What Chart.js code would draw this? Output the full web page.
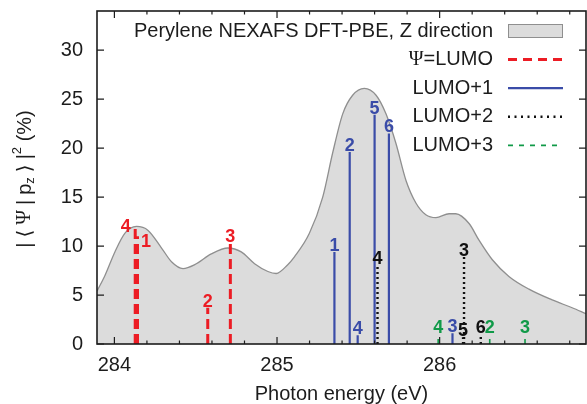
<!DOCTYPE html>
<html>
<head>
<meta charset="utf-8">
<script src="https://cdn.jsdelivr.net/npm/chart.js@4.4.1/dist/chart.umd.min.js"></script>
<style>
  html, body { margin: 0; padding: 0; background: #fff; }
  #wrap { width: 587px; height: 404px; position: relative; }
</style>
</head>
<body>
<div id="wrap"><canvas id="nexafs"></canvas></div>
<script>
// Perylene NEXAFS, z-polarised DFT-PBE spectrum with the orbital sticks

const energy = [283.893, 283.942, 284.003, 284.064, 284.136, 284.207, 284.290, 284.351, 284.422,
  284.494, 284.596, 284.698, 284.780, 284.862, 284.944, 284.995, 285.066, 285.107, 285.199,
  285.281, 285.342, 285.404, 285.465, 285.537, 285.609, 285.670, 285.731, 285.793, 285.854,
  285.915, 285.977, 286.058, 286.099, 286.181, 286.242, 286.324, 286.426, 286.549, 286.692,
  286.815, 286.899];
const spectrum = [5.4, 7.0, 9.4, 11.3, 12.0, 11.6, 9.8, 8.4, 7.7,
  8.1, 9.2, 9.8, 9.4, 8.2, 7.4, 7.2, 8.1, 8.9, 11.3,
  15.0, 19.5, 23.5, 25.4, 26.1, 25.4, 23.5, 20.5, 16.7, 14.4,
  13.2, 12.9, 13.3, 13.3, 12.3, 10.6, 8.6, 6.9, 5.6, 4.5,
  3.7, 3.1];

// stick positions (eV), weights (%) and the index written above each
const lumoE = [284.128, 284.142, 284.574, 284.713];
const lumoW = [11.8, 11.0, 3.7, 10.3];
const lumoIds = ['4', '1', '2', '3'];

const lumo1E = [285.353, 285.447, 285.496, 285.600, 285.688, 286.079];
const lumo1W = [9.4, 19.6, 0.9, 23.4, 21.5, 1.1];
const lumo1Ids = ['1', '2', '4', '5', '6', '3'];

const lumo2E = [285.618, 286.150, 286.144, 286.253];
const lumo2W = [8.1, 8.9, 0.7, 1.0];
const lumo2Ids = ['4', '3', '5', '6'];

const lumo3E = [285.991, 286.308, 286.525];
const lumo3W = [0.5, 0.5, 0.5];
const lumo3Ids = ['4', '2', '3'];

const xMajorTicks = [284, 285, 286];
const xMinorTicks = [284.2, 284.4, 284.6, 284.8, 285.2, 285.4, 285.6, 285.8, 286.2, 286.4, 286.6, 286.8];
const yTicks = [0, 5, 10, 15, 20, 25, 30];

const INK = '#1c1c1c';
const SANS = "'Liberation Sans', 'DejaVu Sans', Arial, sans-serif";
const SERIF = "'Liberation Serif', 'DejaVu Serif', serif";

Chart.defaults.font.family = SANS;
Chart.defaults.font.size = 20;
Chart.defaults.color = INK;

// vertical stick from 0 to h at each x, broken apart with nulls
function sticks(xs, hs) {
  const pts = [];
  xs.forEach((x, i) => {
    pts.push({ x, y: 0 }, { x, y: hs[i] }, { x, y: null });
  });
  return pts;
}

// nudges for labels that would otherwise collide
const labelNudge = {
  'Ψ=LUMO:4': { dx: -9.5, dy: 4 },
  'Ψ=LUMO:1': { dx: 8.5, dy: 11 },
};

// fixed frame: the scales keep no extra padding for half-height labels
function noPad(s) {
  s.paddingTop = 0; s.paddingBottom = 0; s.paddingLeft = 0; s.paddingRight = 0;
}

// draw a run of text pieces (with optional sub/superscripts) starting at x
function richWidth(ctx, pieces) {
  let w = 0;
  pieces.forEach(p => {
    ctx.font = (p.size || 20) + 'px ' + (p.serif ? SERIF : SANS);
    w += ctx.measureText(p.t).width;
  });
  return w;
}
function drawRich(ctx, pieces, x, y) {
  pieces.forEach(p => {
    ctx.font = (p.size || 20) + 'px ' + (p.serif ? SERIF : SANS);
    ctx.fillText(p.t, x, y + (p.dy || 0));
    x += ctx.measureText(p.t).width;
  });
}

const stickLabels = {
  id: 'stickLabels',
  afterDatasetsDraw(chart) {
    const { ctx, scales: { x, y } } = chart;
    ctx.save();
    ctx.font = 'bold 18px ' + SANS;
    ctx.textAlign = 'center';
    ctx.textBaseline = 'alphabetic';
    chart.data.datasets.forEach(ds => {
      if (!ds.ids) return;
      ctx.fillStyle = ds.labelColor || ds.borderColor;
      ds.ids.forEach((id, i) => {
        const top = ds.data[i * 3 + 1];
        const nudge = labelNudge[ds.label + ':' + id] || { dx: 0, dy: ds.labelDy || -1 };
        ctx.fillText(id, x.getPixelForValue(top.x) + nudge.dx, y.getPixelForValue(top.y) + nudge.dy);
      });
    });
    ctx.restore();
  },
};

const frameAndKey = {
  id: 'frameAndKey',
  afterDraw(chart) {
    const { ctx, chartArea: a, scales: { x, y } } = chart;
    ctx.save();

    // box with inward ticks on all four sides
    ctx.strokeStyle = INK;
    ctx.lineWidth = 1.6;
    ctx.strokeRect(a.left, a.top, a.right - a.left, a.bottom - a.top);
    ctx.lineWidth = 1.2;
    ctx.beginPath();
    const xt = (v, len) => {
      const px = x.getPixelForValue(v);
      ctx.moveTo(px, a.bottom); ctx.lineTo(px, a.bottom - len);
      ctx.moveTo(px, a.top); ctx.lineTo(px, a.top + len);
    };
    xMajorTicks.forEach(v => xt(v, 7));
    xMinorTicks.forEach(v => xt(v, 3.5));
    yTicks.forEach(v => {
      const py = y.getPixelForValue(v);
      ctx.moveTo(a.left, py); ctx.lineTo(a.left + 7, py);
      ctx.moveTo(a.right, py); ctx.lineTo(a.right - 7, py);
    });
    ctx.stroke();

    // y axis title: |<Psi|p_z>|^2 (%)
    ctx.fillStyle = INK;
    ctx.textAlign = 'left';
    ctx.textBaseline = 'middle';
    const sp = '\u2005';
    const title = [
      { t: '|' + sp + '\u27E8' + sp }, { t: 'Ψ', serif: true }, { t: sp + '|' + sp + 'p' },
      { t: 'z', size: 13, dy: 5 }, { t: sp + '\u27E9' + sp + '|' },
      { t: '2', size: 13, dy: -8 }, { t: ' (%)' },
    ];
    ctx.save();
    ctx.translate(25, 179);
    ctx.rotate(-Math.PI / 2);
    drawRich(ctx, title, -richWidth(ctx, title) / 2, 0);
    ctx.restore();

    // key: text right-aligned, sample to the right
    const keyRight = 493, sx0 = 508, sx1 = 563, row0 = 31, rowStep = 28.6;
    chart.data.datasets.forEach((ds, i) => {
      const ry = row0 + i * rowStep;
      const pieces = ds.label.split(/(Ψ)/).filter(Boolean).map(t => ({ t, serif: t === 'Ψ' }));
      ctx.fillStyle = INK;
      drawRich(ctx, pieces, keyRight - richWidth(ctx, pieces), ry);
      if (ds.fill) {
        ctx.fillStyle = ds.backgroundColor;
        ctx.fillRect(sx0, ry - 7, sx1 - sx0, 14);
        ctx.strokeStyle = ds.borderColor;
        ctx.lineWidth = 1;
        ctx.setLineDash([]);
        ctx.strokeRect(sx0 + 0.5, ry - 6.5, sx1 - sx0 - 1, 13);
      } else {
        ctx.strokeStyle = ds.borderColor;
        ctx.lineWidth = ds.borderWidth;
        ctx.setLineDash(ds.keyDash || ds.borderDash || []);
        ctx.beginPath();
        ctx.moveTo(sx0, ry); ctx.lineTo(sx1, ry);
        ctx.stroke();
      }
    });
    ctx.restore();
  },
};

new Chart(document.getElementById('nexafs'), {
  type: 'line',
  data: {
    datasets: [
      {
        label: 'Perylene NEXAFS DFT-PBE, Z direction',
        data: energy.map((e, i) => ({ x: e, y: spectrum[i] })),
        borderColor: '#8f8f8f',
        borderWidth: 1.3,
        backgroundColor: '#dcdcdc',
        fill: 'origin',
        pointRadius: 0,
        cubicInterpolationMode: 'monotone',
        order: 10,
      },
      {
        label: 'Ψ=LUMO',
        data: sticks(lumoE, lumoW),
        ids: lumoIds,
        borderColor: '#ec1c24',
        borderWidth: 3,
        borderDash: [10, 5],
        keyDash: [9, 6],
        pointRadius: 0,
      },
      {
        label: 'LUMO+1',
        data: sticks(lumo1E, lumo1W),
        ids: lumo1Ids,
        borderColor: '#3a4ca8',
        borderWidth: 2.2,
        pointRadius: 0,
      },
      {
        label: 'LUMO+2',
        data: sticks(lumo2E, lumo2W),
        ids: lumo2Ids,
        borderColor: '#111111',
        borderWidth: 2.4,
        borderDash: [2, 3],
        keyDash: [2, 4.5],
        pointRadius: 0,
      },
      {
        label: 'LUMO+3',
        data: sticks(lumo3E, lumo3W),
        ids: lumo3Ids,
        labelDy: -6,
        borderColor: '#109a48',
        borderWidth: 1.6,
        borderDash: [5, 6],
        pointRadius: 0,
      },
    ],
  },
  options: {
    responsive: true,
    maintainAspectRatio: false,
    animation: false,
    spanGaps: false,
    layout: { padding: { top: 11, right: 1, bottom: 0, left: 0 } },
    plugins: {
      legend: { display: false },
      tooltip: { enabled: false },
    },
    scales: {
      x: {
        type: 'linear',
        min: 283.893,
        max: 286.9,
        afterBuildTicks: s => { s.ticks = xMajorTicks.map(v => ({ value: v })); },
        afterFit: s => { s.height = 60; noPad(s); },
        grid: { display: false, drawTicks: false },
        border: { display: false },
        ticks: { padding: 9, maxRotation: 0, autoSkip: false, color: INK, font: { size: 20 } },
        title: {
          display: true,
          text: 'Photon energy (eV)',
          color: INK,
          font: { size: 20, lineHeight: 1.0 },
          padding: 0,
        },
      },
      y: {
        min: 0,
        max: 34,
        afterBuildTicks: s => { s.ticks = yTicks.map(v => ({ value: v })); },
        afterFit: s => { s.width = 97; noPad(s); },
        grid: { display: false, drawTicks: false },
        border: { display: false },
        ticks: { padding: 14, color: INK, font: { size: 20 } },
      },
    },
  },
  plugins: [stickLabels, frameAndKey],
});
</script>
</body>
</html>
